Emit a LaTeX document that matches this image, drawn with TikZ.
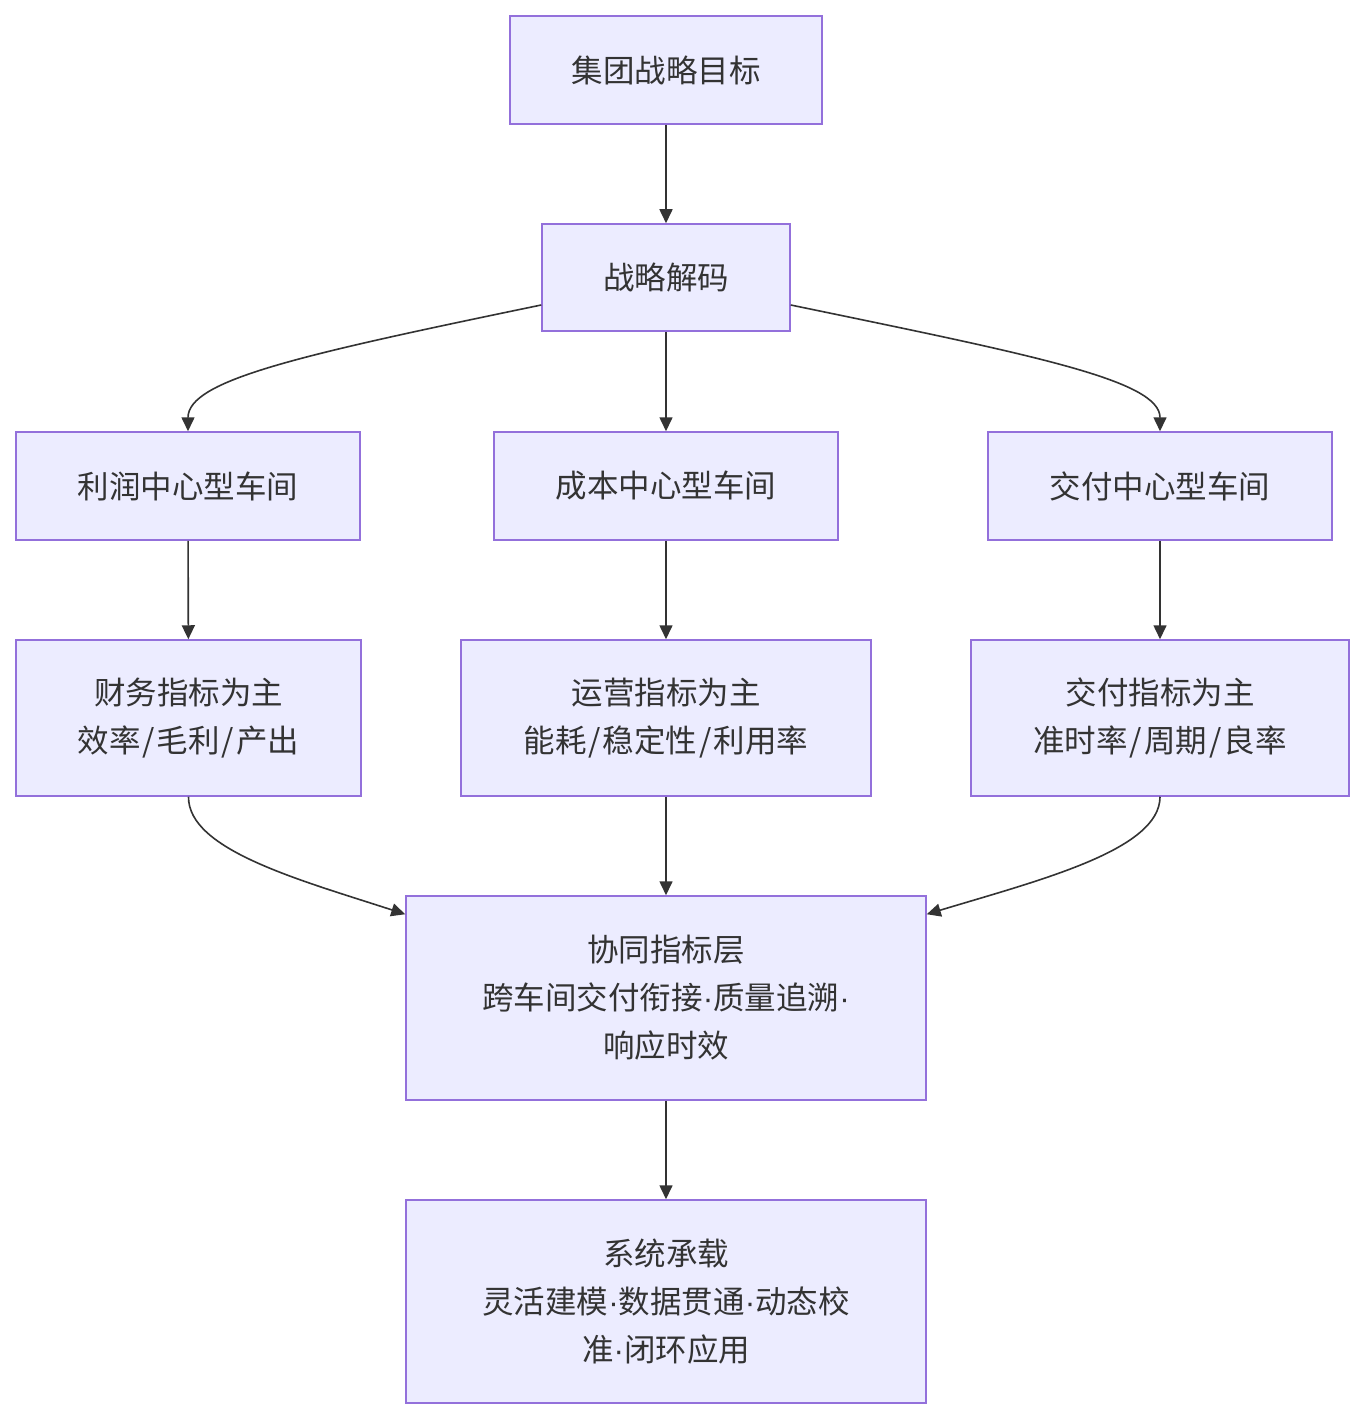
\documentclass[tikz,border=0pt]{standalone}
\usepackage{fontspec}
\setmainfont{Noto Sans CJK SC}
\newfontfamily\latinfont{Liberation Sans}
\newcommand{\mydot}{{\latinfont ·}}
\newcommand{\myslash}{\hspace{2pt}/\hspace{2pt}}
\usetikzlibrary{arrows.meta,calc}
\definecolor{boxfill}{HTML}{ECECFF}
\definecolor{boxline}{HTML}{9370DB}
\definecolor{edge}{HTML}{333333}
\definecolor{txt}{HTML}{333333}
\begin{document}
\begin{tikzpicture}[x=1pt,y=-1pt,
  box/.style={draw=boxline,fill=boxfill,line width=1.5pt,text=txt,align=center,
    font=\fontsize{31.5}{48}\selectfont,inner sep=0pt},
  arr/.style={draw=edge,line width=1.6pt,-{Triangle[length=14pt,width=13pt]}}]
\useasboundingbox[fill=white] (0,0) rectangle (1364,1420);
\node[box,minimum width=312,minimum height=108] (A) at (666,70) {集团战略目标};
\node[box,minimum width=248,minimum height=107] (B) at (666,277.5) {战略解码};
\node[box,minimum width=344,minimum height=108] (C1) at (188,486) {利润中心型车间};
\node[box,minimum width=344,minimum height=108] (C2) at (666,486) {成本中心型车间};
\node[box,minimum width=344,minimum height=108] (C3) at (1160,486) {交付中心型车间};
\node[box,minimum width=345,minimum height=156] (D1) at (188.5,718) {财务指标为主\\效率\myslash 毛利\myslash 产出};
\node[box,minimum width=410,minimum height=156] (D2) at (666,718) {运营指标为主\\能耗\myslash 稳定性\myslash 利用率};
\node[box,minimum width=378,minimum height=156] (D3) at (1160,718) {交付指标为主\\准时率\myslash 周期\myslash 良率};
\node[box,minimum width=520,minimum height=204] (E) at (666,998) {协同指标层\\跨车间交付衔接\mydot 质量追溯\mydot\\响应时效};
\node[box,minimum width=520,minimum height=203] (F) at (666,1301.5) {系统承载\\灵活建模\mydot 数据贯通\mydot 动态校\\准\mydot 闭环应用};
\draw[arr] (A) -- (B);
\draw[arr] (B) -- (C2);
\draw[arr] ([yshift=-27.5pt]B.west) .. controls (300,355) and (188,380) .. (C1.north);
\draw[arr] ([yshift=-27.5pt]B.east) .. controls (1032,355) and (1160,380) .. (C3.north);
\draw[arr] (C1) -- (D1);
\draw[arr] (C2) -- (D2);
\draw[arr] (C3) -- (D3);
\draw[arr] (D2) -- (E);
\draw[arr] (D1.south) .. controls (188,850) and (300,880) .. ([yshift=-19pt]E.north west);
\draw[arr] (D3.south) .. controls (1160,850) and (1040,880) .. ([yshift=-19pt]E.north east);
\draw[arr] (E) -- (F);
\end{tikzpicture}
\end{document}
